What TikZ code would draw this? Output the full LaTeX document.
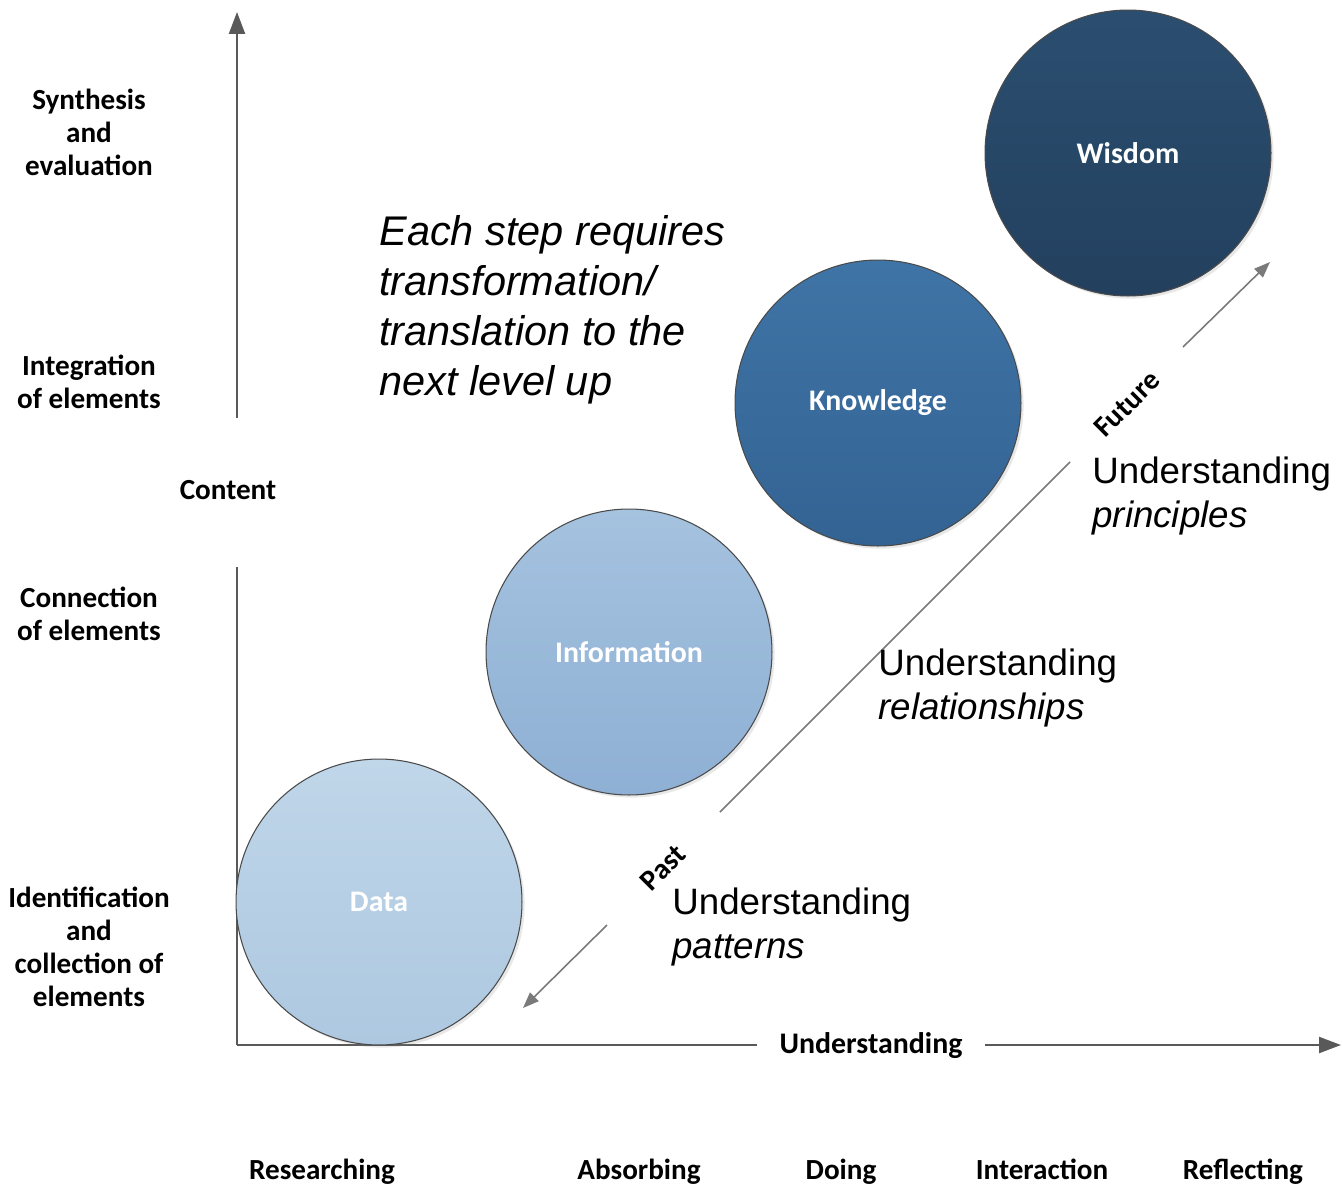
\documentclass[tikz,border=0pt]{standalone}
\usepackage{fontspec}
\setmainfont{Liberation Sans}
\newfontfamily\labelfont{Carlito}
\usetikzlibrary{arrows.meta,shadows}

\definecolor{axisgray}{HTML}{595959}
\definecolor{rimgray}{HTML}{4A4A4A}
\definecolor{dataTop}{HTML}{C0D6E9}
\definecolor{dataBot}{HTML}{ADC8E0}
\definecolor{infoTop}{HTML}{A5C2DF}
\definecolor{infoBot}{HTML}{8EB0D4}
\definecolor{knowTop}{HTML}{3F74A6}
\definecolor{knowBot}{HTML}{336393}
\definecolor{wisTop}{HTML}{2B4E70}
\definecolor{wisBot}{HTML}{23405E}

\tikzset{
  lbl/.style={font=\labelfont\bfseries\fontsize{16.6}{18.8}\selectfont, align=center, inner sep=0pt},
  word/.style={lbl, anchor=base},
  ball/.style={circle, minimum size=5.72cm, inner sep=0pt, draw=rimgray, line width=0.6pt,
    drop shadow={opacity=0.18, shadow xshift=1.5pt, shadow yshift=-1.5pt},
    font=\labelfont\bfseries\fontsize{17}{18.8}\selectfont, text=white},
  axis/.style={draw=axisgray, line width=1.3pt},
  axistip/.style={-{Triangle[length=0.44cm,width=0.32cm]}},
  timeline/.style={draw=axisgray!80, line width=0.9pt},
  timetip/.style={-{Triangle[length=0.32cm,width=0.24cm]}},
  note/.style={font=\fontsize{20.9}{25.6}\selectfont, align=left, inner sep=0pt, anchor=west},
}

\begin{document}
\begin{tikzpicture}[x=0.02cm, y=-0.02cm]
\useasboundingbox (0,0) rectangle (1343,1187);

% axes
\coordinate (O) at (237,1045);
\coordinate (ylow) at (237,567);
\coordinate (yhigh) at (237,418);
\coordinate (ytip) at (237,12);
\coordinate (xtip) at (1341,1045);
\node[word] (content) at (228,499) {Content};
\node[lbl, font=\labelfont\bfseries\fontsize{17}{18.8}\selectfont, inner xsep=0.44cm, text height=11pt, text depth=3pt] (xlab) at (871,1046) {Understanding};
\draw[axis] (O) -- (ylow);
\draw[axis, axistip] (yhigh) -- (ytip);
\draw[axis] (O) -- (xlab.west |- O);
\draw[axis, axistip] (xlab.east |- O) -- (xtip);

% vertical levels
\node[lbl] (lv1) at (89,132) {Synthesis\\and\\evaluation};
\node[lbl] (lv2) at (89,382) {Integration\\of elements};
\node[lbl] (lv3) at (89,614) {Connection\\of elements};
\node[lbl] (lv4) at (89,947) {Identification\\and\\collection of\\elements};

% horizontal activities
\node[word] (a1) at (322,1179) {Researching};
\node[word] (a2) at (639,1179) {Absorbing};
\node[word] (a3) at (841,1179) {Doing};
\node[word] (a4) at (1042,1179) {Interaction};
\node[word] (a5) at (1243,1179) {Reflecting};

% the four stages
\node[ball, top color=dataTop, bottom color=dataBot] (data) at (379,902) {Data};
\node[ball, top color=infoTop, bottom color=infoBot] (info) at (629,652) {Information};
\node[ball, top color=knowTop, bottom color=knowBot] (know) at (878,403) {Knowledge};
\node[ball, top color=wisTop, bottom color=wisBot] (wis) at (1128,153) {Wisdom};

% time line along the diagonal
\coordinate (d1) at (720,812);
\coordinate (d2) at (1070,462);
\coordinate (f1) at (1183,347);
\coordinate (f2) at (1270,262);
\coordinate (p1) at (607,925);
\coordinate (p2) at (523,1008);
\draw[timeline] (d1) -- (d2);
\draw[timeline, timetip] (f1) -- (f2);
\draw[timeline, timetip] (p1) -- (p2);
\node[lbl, rotate=45] (future) at (1127,404) {Future};
\node[lbl, rotate=45] (past) at (663,868) {Past};

% annotations
\node[note] (n1) at (1092,496) {Understanding\\\textit{principles}};
\node[note] (n2) at (878,688) {Understanding\\\textit{relationships}};
\node[note] (n3) at (672,927) {Understanding\\\textit{patterns}};
\node[font=\itshape\fontsize{23.6}{28.5}\selectfont, align=left, inner sep=0pt, anchor=west] (steps) at (379,310)
  {Each step requires\\transformation/\\translation to the\\next level up};
\end{tikzpicture}
\end{document}
